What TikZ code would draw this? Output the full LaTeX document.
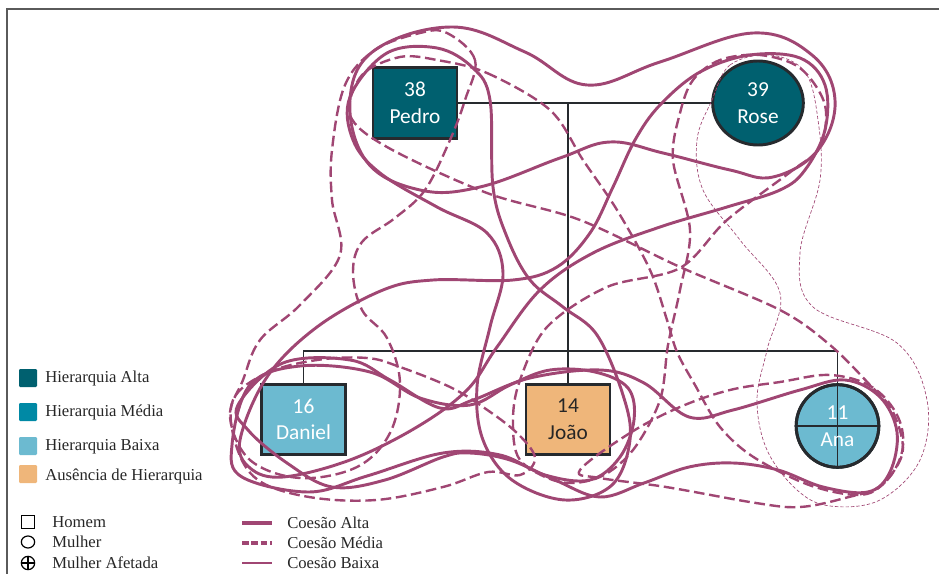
\documentclass[tikz,border=0pt]{standalone}
\usepackage{fontspec}
\setmainfont{Liberation Serif}
\newfontfamily\nodefont{Carlito}
\usetikzlibrary{shapes.geometric}
\definecolor{hAlta}{RGB}{0,96,111}
\definecolor{hMedia}{RGB}{0,137,165}
\definecolor{hBaixa}{RGB}{108,186,208}
\definecolor{hAus}{RGB}{239,182,122}
\definecolor{bond}{RGB}{160,70,115}
\definecolor{edge}{RGB}{38,42,46}
\definecolor{frameg}{RGB}{90,90,90}
\tikzset{
  person/.style={draw=edge, line width=2.2pt, inner sep=0pt, align=center,
    font=\nodefont\fontsize{16}{20}\selectfont, text=white},
  man/.style={person, rectangle, minimum width=63pt, minimum height=53pt},
  woman/.style={person, ellipse},
  tree/.style={draw=edge, line width=1pt},
  alta/.style={draw=bond, line width=2.2pt},
  media/.style={draw=bond, line width=1.8pt, dash pattern=on 8pt off 3.5pt},
  baixa/.style={draw=bond, line width=0.5pt, dash pattern=on 2.5pt off 1.5pt},
  legtext/.style={anchor=west, inner sep=0pt, font=\fontsize{12.5}{14}\selectfont, text=black!85},
  legbox/.style={rectangle, minimum size=13.5pt, inner sep=0pt, rounded corners=0.8pt}
}
\begin{document}
\begin{tikzpicture}[x=0.75pt,y=-0.75pt]
\useasboundingbox (0,0) rectangle (939,574);
% frame
\draw[frameg, line width=1.1pt] (7,574) -- (7,9) -- (939,9);

% family tree
\node[man, fill=hAlta] (pedro) at (415,103) {38\\Pedro};
\node[woman, fill=hAlta, minimum width=68pt, minimum height=63pt] (rose) at (758,103) {39\\Rose};
\node[man, fill=hBaixa, minimum width=63.5pt] (daniel) at (303.5,419.5) {16\\Daniel};
\node[man, fill=hAus, text=black!85] (joao) at (568,419.5) {14\\João};
\node[woman, fill=hBaixa, minimum width=62pt, minimum height=62pt] (ana) at (837.5,426) {};
\coordinate (mid) at (568,103);
\coordinate (bar) at (568,351);
\draw[tree] (pedro.east) -- (rose.west);
\draw[tree] (mid) -- (joao.north);
\draw[tree] (daniel.north) -- (daniel.north |- bar) -- (ana.north |- bar) -- (ana.south);
\draw[tree] (ana.west) -- (ana.east);
\draw[edge, line width=2.2pt] (ana) ellipse (31pt and 31pt);
\node[font=\nodefont\fontsize{16}{20}\selectfont, text=white, align=center] (analabel) at (ana) {11\\Ana};

% cohesion bonds: high
\draw[alta] plot[smooth cycle, tension=0.65] coordinates {
  (350,100) (375,50) (453,27) (525,52) (587,85) (660,62) (753,33) (812,55)
  (835,100) (818,150) (773,177) (730,170) (663,153) (610,142) (560,158)
  (480,187) (420,190) (367,162)};
\draw[alta] plot[smooth cycle, tension=0.6] coordinates {
  (437,48) (387,53) (350,97) (353,140) (380,173) (437,207) (487,233)
  (503,273) (490,327) (477,387) (483,440) (512,480) (565,500) (612,485)
  (630,440) (623,395) (597,335) (563,307) (530,280) (507,237) (493,187)
  (490,100) (473,68)};
\draw[alta] plot[smooth cycle, tension=0.6] coordinates {
  (240,440) (267,377) (317,327) (383,290) (433,280) (513,280) (557,267)
  (590,233) (613,187) (635,140) (660,105) (700,72) (750,55) (800,58)
  (825,85) (825,130) (805,170) (780,190) (727,207) (660,227) (593,253)
  (540,290) (497,347) (467,390) (417,427) (350,460) (283,477) (250,468)};
\draw[alta] plot[smooth cycle, tension=0.6] coordinates {
  (238,405) (283,363) (350,360) (390,380) (440,408) (473,400) (530,378)
  (600,370) (644,383) (689,417) (733,410) (800,390) (845,380) (880,397)
  (897,432) (890,472) (868,492) (823,487) (778,470) (733,463) (689,467)
  (644,483) (600,497) (555,480) (510,460) (470,453) (443,457) (385,480)
  (332,487) (287,463) (248,430)};
\draw[alta] plot[smooth cycle, tension=0.6] coordinates {
  (232,445) (242,477) (309,492) (367,476) (443,453) (500,455) (545,475)
  (590,480) (620,457) (634,420) (628,388) (595,372) (550,370) (510,385)
  (470,405) (420,398) (370,372) (300,366) (250,385)};

% cohesion bonds: medium
\draw[media] plot[smooth cycle, tension=0.6] coordinates {
  (447,33) (475,60) (465,100) (450,140) (425,190) (395,218) (362,242)
  (353,272) (362,310) (387,338) (400,383) (390,433) (357,467) (300,478)
  (250,460) (230,417) (243,380) (260,340) (300,305) (340,255) (332,200)
  (332,150) (345,85) (375,50) (420,33)};
\draw[media] plot[smooth cycle, tension=0.55] coordinates {
  (437,60) (487,73) (550,110) (583,160) (617,210) (650,270) (667,320)
  (677,352) (695,385) (720,427) (755,458) (815,487) (870,493) (902,455)
  (893,412) (870,385) (830,345) (780,310) (680,267) (580,220) (487,193)
  (387,147) (350,115) (362,75) (400,57)};
\draw[media] plot[smooth cycle, tension=0.55] coordinates {
  (820,147) (793,170) (727,220) (680,268) (607,287) (547,327) (520,380)
  (513,420) (520,460) (560,482) (600,477) (633,450) (660,400) (668,345)
  (680,290) (690,230) (673,160) (680,113) (693,80) (720,60) (760,55)
  (800,68) (825,105)};
\draw[media] plot[smooth cycle, tension=0.6] coordinates {
  (233,400) (267,373) (317,360) (367,358) (400,367) (450,387) (483,407)
  (517,433) (535,458) (520,475) (488,472) (443,487) (376,500) (309,497)
  (258,480) (236,445)};
\draw[media] plot[smooth cycle, tension=0.6] coordinates {
  (580,470) (630,433) (680,407) (730,390) (780,382) (830,375) (872,387)
  (898,417) (902,452) (882,485) (845,498) (800,507) (756,503) (666,487)
  (600,478)};

% cohesion bonds: low
\draw[baixa] plot[smooth cycle, tension=0.6] coordinates {
  (712,100) (730,65) (770,55) (805,72) (818,120) (820,180) (800,253)
  (813,307) (897,343) (927,400) (920,460) (880,500) (830,506) (797,490)
  (767,450) (757,400) (767,350) (780,293) (740,240) (703,190) (697,140)};

% legend: hierarchy
\node[legbox, fill=hAlta] (lg1) at (28,378) {};
\node[legbox, fill=hMedia] (lg2) at (28,412) {};
\node[legbox, fill=hBaixa] (lg3) at (28,446) {};
\node[legbox, fill=hAus] (lg4) at (28,474) {};
\node[legtext] (lt1) at (45,378) {Hierarquia Alta};
\node[legtext] (lt2) at (45,412) {Hierarquia Média};
\node[legtext] (lt3) at (45,447) {Hierarquia Baixa};
\node[legtext] (lt4) at (45,476) {Ausência de Hierarquia};

% legend: symbols
\node[draw=black, line width=0.9pt, minimum size=9.5pt, inner sep=0pt] (sm) at (28,522) {};
\node[draw=black, line width=0.9pt, ellipse, minimum width=10pt, minimum height=9pt, inner sep=0pt] (sw) at (28,542) {};
\node[draw=black, line width=0.9pt, circle, minimum size=10pt, inner sep=0pt] (sa) at (28,563) {};
\draw[black, line width=0.9pt] (sa.north) -- (sa.south) (sa.west) -- (sa.east);
\node[legtext] (ls1) at (52,522) {Homem};
\node[legtext] (ls2) at (52,542) {Mulher};
\node[legtext] (ls3) at (52,563) {Mulher Afetada};

% legend: cohesion
\coordinate (c1a) at (242,523); \coordinate (c1b) at (272,523);
\coordinate (c2a) at (242,543); \coordinate (c2b) at (272,543);
\coordinate (c3a) at (242,563); \coordinate (c3b) at (272,563);
\draw[draw=bond, line width=2.4pt] (c1a) -- (c1b);
\draw[draw=bond, line width=2.4pt, dash pattern=on 5pt off 2pt] (c2a) -- (c2b);
\draw[draw=bond, line width=1.2pt] (c3a) -- (c3b);
\node[legtext] (lc1) at (287,523) {Coesão Alta};
\node[legtext] (lc2) at (287,543) {Coesão Média};
\node[legtext] (lc3) at (287,563) {Coesão Baixa};
\end{tikzpicture}
\end{document}
